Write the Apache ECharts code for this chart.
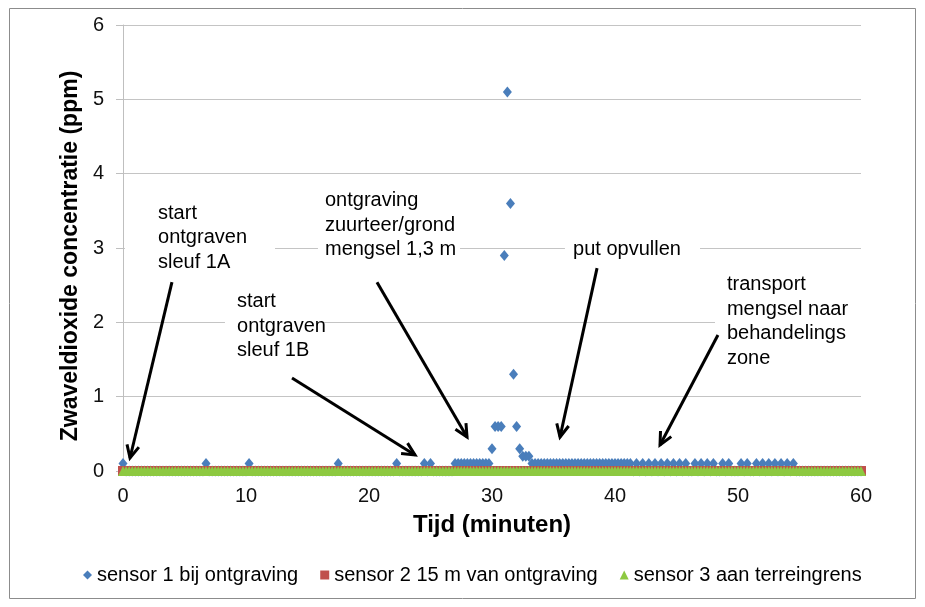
<!DOCTYPE html>
<html>
<head>
<meta charset="utf-8">
<script src="https://cdn.jsdelivr.net/npm/echarts@6/dist/echarts.min.js"></script>
<style>
  html, body { margin: 0; padding: 0; background: #fff; }
  #chart { width: 925px; height: 607px; }
</style>
</head>
<body>
<div id="chart"></div>
<script>
// sample times (minutes), one reading every 15 s
const minutes = [
  0, 0.25, 0.5, 0.75, 1, 1.25, 1.5, 1.75, 2, 2.25, 2.5, 2.75, 3, 3.25, 3.5, 3.75, 4, 4.25, 4.5, 4.75,
  5, 5.25, 5.5, 5.75, 6, 6.25, 6.5, 6.75, 7, 7.25, 7.5, 7.75, 8, 8.25, 8.5, 8.75, 9, 9.25, 9.5, 9.75,
  10, 10.25, 10.5, 10.75, 11, 11.25, 11.5, 11.75, 12, 12.25, 12.5, 12.75, 13, 13.25, 13.5, 13.75, 14, 14.25, 14.5, 14.75,
  15, 15.25, 15.5, 15.75, 16, 16.25, 16.5, 16.75, 17, 17.25, 17.5, 17.75, 18, 18.25, 18.5, 18.75, 19, 19.25, 19.5, 19.75,
  20, 20.25, 20.5, 20.75, 21, 21.25, 21.5, 21.75, 22, 22.25, 22.5, 22.75, 23, 23.25, 23.5, 23.75, 24, 24.25, 24.5, 24.75,
  25, 25.25, 25.5, 25.75, 26, 26.25, 26.5, 26.75, 27, 27.25, 27.5, 27.75, 28, 28.25, 28.5, 28.75, 29, 29.25, 29.5, 29.75,
  30, 30.25, 30.5, 30.75, 31, 31.25, 31.5, 31.75, 32, 32.25, 32.5, 32.75, 33, 33.25, 33.5, 33.75, 34, 34.25, 34.5, 34.75,
  35, 35.25, 35.5, 35.75, 36, 36.25, 36.5, 36.75, 37, 37.25, 37.5, 37.75, 38, 38.25, 38.5, 38.75, 39, 39.25, 39.5, 39.75,
  40, 40.25, 40.5, 40.75, 41, 41.25, 41.5, 41.75, 42, 42.25, 42.5, 42.75, 43, 43.25, 43.5, 43.75, 44, 44.25, 44.5, 44.75,
  45, 45.25, 45.5, 45.75, 46, 46.25, 46.5, 46.75, 47, 47.25, 47.5, 47.75, 48, 48.25, 48.5, 48.75, 49, 49.25, 49.5, 49.75,
  50, 50.25, 50.5, 50.75, 51, 51.25, 51.5, 51.75, 52, 52.25, 52.5, 52.75, 53, 53.25, 53.5, 53.75, 54, 54.25, 54.5, 54.75,
  55, 55.25, 55.5, 55.75, 56, 56.25, 56.5, 56.75, 57, 57.25, 57.5, 57.75, 58, 58.25, 58.5, 58.75, 59, 59.25, 59.5, 59.75,
  60
]

// sensor 1 bij ontgraving (ppm)
const sensor1 = [
  0.1, 0, 0, 0, 0, 0, 0, 0, 0, 0, 0, 0, 0, 0, 0, 0, 0, 0, 0, 0,
  0, 0, 0, 0, 0, 0, 0, 0.1, 0, 0, 0, 0, 0, 0, 0, 0, 0, 0, 0, 0,
  0, 0.1, 0, 0, 0, 0, 0, 0, 0, 0, 0, 0, 0, 0, 0, 0, 0, 0, 0, 0,
  0, 0, 0, 0, 0, 0, 0, 0, 0, 0, 0.1, 0, 0, 0, 0, 0, 0, 0, 0, 0,
  0, 0, 0, 0, 0, 0, 0, 0, 0, 0.1, 0, 0, 0, 0, 0, 0, 0, 0, 0.1, 0,
  0.1, 0, 0, 0, 0, 0, 0, 0, 0.1, 0.1, 0.1, 0.1, 0.1, 0.1, 0.1, 0.1, 0.1, 0.1, 0.1, 0.1,
  0.3, 0.6, 0.6, 0.6, 2.9, 5.1, 3.6, 1.3, 0.6, 0.3, 0.2, 0.2, 0.2, 0.1, 0.1, 0.1, 0.1, 0.1, 0.1, 0.1,
  0.1, 0.1, 0.1, 0.1, 0.1, 0.1, 0.1, 0.1, 0.1, 0.1, 0.1, 0.1, 0.1, 0.1, 0.1, 0.1, 0.1, 0.1, 0.1, 0.1,
  0.1, 0.1, 0.1, 0.1, 0.1, 0.1, 0, 0.1, 0, 0.1, 0, 0.1, 0, 0.1, 0, 0.1, 0, 0.1, 0, 0.1,
  0, 0.1, 0, 0.1, 0, 0, 0.1, 0, 0.1, 0, 0.1, 0, 0.1, 0, 0, 0.1, 0, 0.1, 0, 0,
  0, 0.1, 0, 0.1, 0, 0, 0.1, 0, 0.1, 0, 0.1, 0, 0.1, 0, 0.1, 0, 0.1, 0, 0.1, 0,
  0, 0, 0, 0, 0, 0, 0, 0, 0, 0, 0, 0, 0, 0, 0, 0, 0, 0, 0, 0,
  0
]

// sensor 2 15 m van ontgraving (ppm)
const sensor2 = [
  0, 0, 0, 0, 0, 0, 0, 0, 0, 0, 0, 0, 0, 0, 0, 0, 0, 0, 0, 0,
  0, 0, 0, 0, 0, 0, 0, 0, 0, 0, 0, 0, 0, 0, 0, 0, 0, 0, 0, 0,
  0, 0, 0, 0, 0, 0, 0, 0, 0, 0, 0, 0, 0, 0, 0, 0, 0, 0, 0, 0,
  0, 0, 0, 0, 0, 0, 0, 0, 0, 0, 0, 0, 0, 0, 0, 0, 0, 0, 0, 0,
  0, 0, 0, 0, 0, 0, 0, 0, 0, 0, 0, 0, 0, 0, 0, 0, 0, 0, 0, 0,
  0, 0, 0, 0, 0, 0, 0, 0, 0, 0, 0, 0, 0, 0, 0, 0, 0, 0, 0, 0,
  0, 0, 0, 0, 0, 0, 0, 0, 0, 0, 0, 0, 0, 0, 0, 0, 0, 0, 0, 0,
  0, 0, 0, 0, 0, 0, 0, 0, 0, 0, 0, 0, 0, 0, 0, 0, 0, 0, 0, 0,
  0, 0, 0, 0, 0, 0, 0, 0, 0, 0, 0, 0, 0, 0, 0, 0, 0, 0, 0, 0,
  0, 0, 0, 0, 0, 0, 0, 0, 0, 0, 0, 0, 0, 0, 0, 0, 0, 0, 0, 0,
  0, 0, 0, 0, 0, 0, 0, 0, 0, 0, 0, 0, 0, 0, 0, 0, 0, 0, 0, 0,
  0, 0, 0, 0, 0, 0, 0, 0, 0, 0, 0, 0, 0, 0, 0, 0, 0, 0, 0, 0,
  0
]

// sensor 3 aan terreingrens (ppm)
const sensor3 = [
  0, 0, 0, 0, 0, 0, 0, 0, 0, 0, 0, 0, 0, 0, 0, 0, 0, 0, 0, 0,
  0, 0, 0, 0, 0, 0, 0, 0, 0, 0, 0, 0, 0, 0, 0, 0, 0, 0, 0, 0,
  0, 0, 0, 0, 0, 0, 0, 0, 0, 0, 0, 0, 0, 0, 0, 0, 0, 0, 0, 0,
  0, 0, 0, 0, 0, 0, 0, 0, 0, 0, 0, 0, 0, 0, 0, 0, 0, 0, 0, 0,
  0, 0, 0, 0, 0, 0, 0, 0, 0, 0, 0, 0, 0, 0, 0, 0, 0, 0, 0, 0,
  0, 0, 0, 0, 0, 0, 0, 0, 0, 0, 0, 0, 0, 0, 0, 0, 0, 0, 0, 0,
  0, 0, 0, 0, 0, 0, 0, 0, 0, 0, 0, 0, 0, 0, 0, 0, 0, 0, 0, 0,
  0, 0, 0, 0, 0, 0, 0, 0, 0, 0, 0, 0, 0, 0, 0, 0, 0, 0, 0, 0,
  0, 0, 0, 0, 0, 0, 0, 0, 0, 0, 0, 0, 0, 0, 0, 0, 0, 0, 0, 0,
  0, 0, 0, 0, 0, 0, 0, 0, 0, 0, 0, 0, 0, 0, 0, 0, 0, 0, 0, 0,
  0, 0, 0, 0, 0, 0, 0, 0, 0, 0, 0, 0, 0, 0, 0, 0, 0, 0, 0, 0,
  0, 0, 0, 0, 0, 0, 0, 0, 0, 0, 0, 0, 0, 0, 0, 0, 0, 0, 0, 0,
  0
]

const seriesNames = ['sensor 1 bij ontgraving', 'sensor 2 15 m van ontgraving', 'sensor 3 aan terreingrens']

// annotation texts, placed in data units (minutes, ppm)
const notes = [
  { text: 'start\nontgraven\nsleuf 1A', at: [2.85, 3.63], box: [0.16, 3.71, 12.36, 2.57] },
  { text: 'start\nontgraven\nsleuf 1B', at: [9.27, 2.44], box: [8.29, 2.5, 16.02, 1.43] },
  { text: 'ontgraving\nzuurteer/grond\nmengsel 1,3 m', at: [16.42, 3.8], box: [15.85, 3.83, 27.4, 2.81] },
  { text: 'put opvullen', at: [36.59, 3.14], box: [35.93, 3.16, 46.91, 2.81] },
  { text: 'transport\nmengsel naar\nbehandelings\nzone', at: [49.1, 2.67], box: [48.13, 2.73, 60, 1.33] }
]

const arrows = [
  { from: [3.98, 2.54], to: [0.57, 0.175] },
  { from: [13.74, 1.25], to: [23.74, 0.215] },
  { from: [20.65, 2.54], to: [27.97, 0.457] },
  { from: [38.54, 2.73], to: [35.53, 0.457] },
  { from: [48.37, 1.83], to: [43.66, 0.35] }
]

const FONT = '"Liberation Sans", Arial, sans-serif'
const chart = echarts.init(document.getElementById('chart'))

const pairs = (vals) => minutes.map((t, i) => [t, vals[i]])

const option = {
  animation: false,
  textStyle: { fontFamily: FONT },
  grid: { left: 123, right: 64, top: 25, bottom: 136 },
  legend: {
    top: 560,
    left: 78,
    itemWidth: 9,
    itemHeight: 9,
    itemGap: 22,
    textStyle: { fontSize: 20, color: '#000', fontFamily: FONT },
    data: [
      { name: seriesNames[0], icon: 'diamond' },
      { name: seriesNames[1], icon: 'rect' },
      { name: seriesNames[2], icon: 'triangle' }
    ]
  },
  xAxis: {
    type: 'value',
    min: 0,
    max: 60,
    interval: 10,
    name: 'Tijd (minuten)',
    nameLocation: 'middle',
    nameGap: 42,
    nameTextStyle: { fontSize: 24, fontWeight: 'bold', color: '#000', fontFamily: FONT },
    axisLine: { lineStyle: { color: '#BFBFBF' } },
    axisTick: { show: true, length: 5, lineStyle: { color: '#BFBFBF' } },
    axisLabel: { fontSize: 20, color: '#111', margin: 15 },
    splitLine: { show: false }
  },
  yAxis: {
    type: 'value',
    min: 0,
    max: 6,
    interval: 1,
    name: 'Zwaveldioxide concentratie (ppm)',
    nameLocation: 'middle',
    nameGap: 38,
    nameTextStyle: { fontSize: 23, fontWeight: 'bold', color: '#000', fontFamily: FONT, padding: [0, 16, 0, 0] },
    axisLine: { show: true, lineStyle: { color: '#BFBFBF' } },
    axisTick: { show: true, length: 7, lineStyle: { color: '#BFBFBF' } },
    axisLabel: { fontSize: 20, color: '#111', margin: 19 },
    splitLine: { lineStyle: { color: '#C4C4C4' } }
  },
  series: [
    {
      name: seriesNames[0],
      type: 'scatter',
      clip: false,
      symbol: 'diamond',
      symbolSize: [9, 11],
      itemStyle: { color: '#4A7EBB', opacity: 1 },
      data: pairs(sensor1)
    },
    {
      name: seriesNames[1],
      type: 'scatter',
      clip: false,
      symbol: 'rect',
      symbolSize: 10,
      itemStyle: { color: '#C0504D', opacity: 1 },
      data: pairs(sensor2)
    },
    {
      name: seriesNames[2],
      type: 'scatter',
      clip: false,
      symbol: 'triangle',
      symbolSize: [10, 10],
      itemStyle: { color: '#8DC941', opacity: 1 },
      data: pairs(sensor3)
    }
  ]
}

chart.setOption(option)

// annotations: white text boxes and black arrows, positioned via the grid
const px = (p) => chart.convertToPixel({ gridIndex: 0 }, p)
const graphics = []

graphics.push({
  type: 'rect',
  shape: { x: 9.5, y: 8.5, width: 906, height: 590 },
  style: { fill: 'none', stroke: '#8C8C8C', lineWidth: 1 },
  z: 1
})

notes.forEach((n) => {
  const a = px([n.box[0], n.box[1]])
  const b = px([n.box[2], n.box[3]])
  graphics.push({
    type: 'rect',
    shape: { x: a[0], y: a[1], width: b[0] - a[0], height: b[1] - a[1] },
    style: { fill: '#fff' },
    z: 20
  })
  const t = px(n.at)
  graphics.push({
    type: 'text',
    x: t[0],
    y: t[1],
    style: {
      text: n.text,
      font: '20px ' + FONT,
      lineHeight: 24.5,
      fill: '#000',
      verticalAlign: 'top'
    },
    z: 21
  })
})

arrows.forEach((ar) => {
  const p0 = px(ar.from)
  const p1 = px(ar.to)
  const ang = Math.atan2(p1[1] - p0[1], p1[0] - p0[0])
  const headLen = 14
  const spread = 0.45
  const h1 = [p1[0] - headLen * Math.cos(ang - spread), p1[1] - headLen * Math.sin(ang - spread)]
  const h2 = [p1[0] - headLen * Math.cos(ang + spread), p1[1] - headLen * Math.sin(ang + spread)]
  graphics.push({
    type: 'line',
    shape: { x1: p0[0], y1: p0[1], x2: p1[0], y2: p1[1] },
    style: { stroke: '#000', lineWidth: 3 },
    z: 22
  })
  graphics.push({
    type: 'polyline',
    shape: { points: [h1, p1, h2] },
    style: { stroke: '#000', lineWidth: 3, fill: 'none', lineJoin: 'miter' },
    z: 22
  })
})

chart.setOption({ graphic: graphics })
</script>
</body>
</html>
